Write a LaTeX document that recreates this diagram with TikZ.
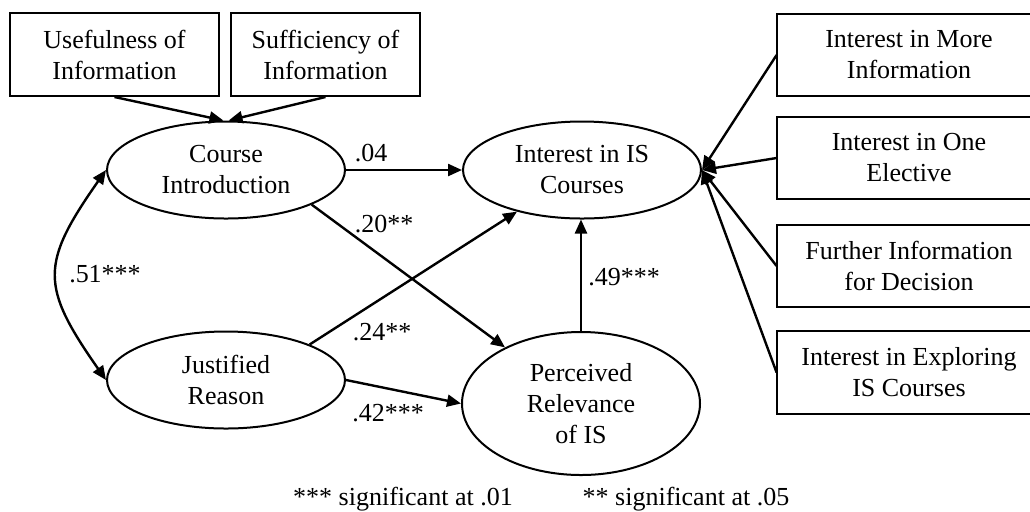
\documentclass[tikz,border=0pt]{standalone}
\usepackage{fontspec}
\setmainfont{Liberation Serif}
\usetikzlibrary{arrows.meta,shapes.geometric}

\begin{document}
\begin{tikzpicture}[x=0.5pt,y=-0.5pt,
  font=\fontsize{13}{15.5}\selectfont,
  box/.style={draw,line width=1pt,align=center,inner sep=0pt,minimum height=41.5pt},
  openbox/.style={align=center,inner sep=0pt,minimum height=41pt,minimum width=132pt},
  latent/.style={ellipse,draw,line width=1pt,align=center,inner sep=0pt,minimum width=119pt,minimum height=48.5pt},
  link/.style={line width=1.2pt,-{Triangle[length=7pt,width=6pt]}},
  coef/.style={inner sep=0pt}]
\useasboundingbox (0,0) rectangle (1030,511);
\node [box, minimum width=104.5pt] (useful) at (114.5,54.5) {Usefulness of\\Information};
\node [box, minimum width=94.5pt] (suffic) at (325.5,54.5) {Sufficiency of\\Information};
\node [openbox] (moreinfo) at (909,55) {Interest in More\\Information};
\node [openbox] (elective) at (909,158) {Interest in One\\Elective};
\node [openbox] (decision) at (909,266) {Further Information\\for Decision};
\node [openbox] (explore) at (909,372.5) {Interest in Exploring\\IS Courses};
\foreach \b in {moreinfo,elective,decision,explore}
  \draw [line width=1pt] (\b.north east) -- (\b.north west) -- (\b.south west) -- (\b.south east);
\node [latent] (course) at (226,170) {Course\\Introduction};
\node [latent] (interest) at (582,170) {Interest in IS\\Courses};
\node [latent] (justified) at (226,380) {Justified\\Reason};
\node [latent, minimum height=71.5pt] (relevance) at (581,403.5) {Perceived\\Relevance\\of IS};
\draw [link] (useful.south) -- (course.93);
\draw [link] (suffic.south) -- (course.87);
\draw [link] (moreinfo.west) -- (interest.east);
\draw [link] (elective.west) -- (interest.east);
\draw [link] (decision.west) -- (interest.east);
\draw [link] (explore.west) -- (interest.east);
\draw [link] (course.east) -- (interest.west);
\draw [link] (course.-22) -- (relevance);
\draw [link] (justified.23) -- (interest);
\draw [link] (justified.east) -- (relevance.west);
\draw [link] (relevance.north) -- (relevance.north |- interest.south);
\draw [link, {Triangle[length=7pt,width=6pt]}-{Triangle[length=7pt,width=6pt]}] (course.west) to[out=235,in=125,looseness=1.4] (justified.west);
\node [coef] (c04) at (371,153) {.04};
\node [coef] (c20) at (384,224) {.20**};
\node [coef] (c24) at (382,332) {.24**};
\node [coef] (c42) at (388,413) {.42***};
\node [coef] (c49) at (624,277) {.49***};
\node [coef] (c51) at (105,274) {.51***};
\node [coef] (foot1) at (403,499) {*** significant at .01};
\node [coef] (foot2) at (686,499) {** significant at .05};
\end{tikzpicture}
\end{document}
